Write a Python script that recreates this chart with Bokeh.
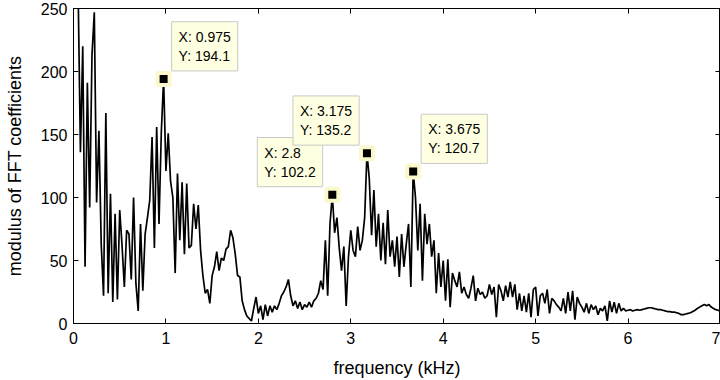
import numpy as np
from bokeh.plotting import figure
from bokeh.models import Range1d, LinearAxis, Label, ColumnDataSource, FixedTicker
from bokeh.embed import file_html
from bokeh.resources import INLINE

# ---- data ----
step_khz = 0.025
modulus = [
    320, 290, 265, 136, 220, 45, 191, 92, 213, 247,
    96, 153, 63, 22, 167, 24, 103, 17, 87, 19,
    90, 62, 29, 74, 71, 35, 100, 32, 10, 79,
    26, 71, 84, 98, 148, 60, 156, 79, 152, 194.1,
    121, 151, 113, 100, 40, 119, 66, 112, 55, 111,
    60, 62, 95, 75, 94, 58, 38, 24, 27, 16,
    38, 45, 57, 42, 52, 50, 59, 61, 74, 68,
    55, 38, 37, 18, 11, 6, 4, 2, 12, 21,
    8, 14, 3, 15, 6, 14, 9, 14, 11, 16,
    22, 25, 29, 35, 22, 14, 18, 12, 17, 11,
    15, 13, 17, 13, 18, 20, 24, 34, 27, 66,
    22, 79, 102.2, 72, 84, 60, 42, 61, 14, 53,
    74, 58, 53, 77, 58, 66, 84, 135.2, 115, 70,
    106, 61, 87, 50, 80, 47, 90, 53, 66, 45,
    69, 37, 71, 45, 63, 79, 29, 120.7, 100, 58,
    95, 34, 87, 63, 79, 53, 66, 24, 56, 29,
    50, 18, 51, 13, 40, 34, 29, 41, 24, 29,
    23, 20, 28, 38, 18, 28, 23, 25, 20, 22,
    31, 23, 29, 5, 31, 26, 18, 30, 21, 33,
    21, 31, 11, 24, 10, 22, 9, 24, 5, 27,
    29, 6, 22, 24, 16, 27, 8, 20, 18, 15,
    13, 10, 20, 8, 25, 10, 26, 3, 21, 16,
    13, 9, 16, 8, 15, 11, 14, 7, 12, 10,
    14, 2, 18, 9, 17, 8, 16, 10, 12, 10,
    10.5, 11, 10, 10.5, 11, 10.5, 11, 11.5, 12, 12.5,
    12.5, 12, 11.5, 11, 11, 10.5, 10, 9.5, 9.5, 9,
    9, 8.5, 8, 7, 7, 7.5, 8, 8.5, 9.5, 10.5,
    12, 13, 14, 15, 14, 15, 13, 12, 11, 10.5, 9.5,
]
freq = [round(i * step_khz, 4) for i in range(len(modulus))]

tip_x = [0.975, 2.8, 3.175, 3.675]
tip_y = [194.1, 102.2, 135.2, 120.7]
tip_dx = [8, -75, -74, 8]   # datatip box offset from its point (screen px)

x_ticks = [0, 1, 2, 3, 4, 5, 6, 7]
y_ticks = [0, 50, 100, 150, 200, 250]

FONT = "Liberation Sans"

p = figure(width=720, height=380, output_backend="svg", toolbar_location=None,
           x_range=Range1d(0, 7), y_range=Range1d(0, 250),
           min_border_left=73, min_border_right=0, min_border_top=8, min_border_bottom=57)
p.background_fill_color = "white"
p.border_fill_color = "white"
p.outline_line_color = "black"
p.outline_line_width = 1
p.xgrid.visible = False
p.ygrid.visible = False

src = ColumnDataSource(dict(f=freq, m=modulus))
p.line("f", "m", source=src, line_color="black", line_width=1.7)

p.scatter(tip_x, tip_y, marker="square", size=12, fill_color="black",
          line_color="#fbf8cc", line_width=4)

for ax in (p.xaxis[0], p.yaxis[0]):
    ax.major_tick_in = 5
    ax.major_tick_out = 0
    ax.minor_tick_line_color = None
    ax.major_label_text_font = FONT
    ax.major_label_text_font_size = "16px"
    ax.major_label_text_color = "black"
    ax.axis_label_text_font = FONT
    ax.axis_label_text_font_size = "18px"
    ax.axis_label_text_font_style = "normal"
    ax.axis_label_text_color = "black"
    ax.axis_line_color = "black"

p.xaxis.ticker = FixedTicker(ticks=x_ticks)
p.yaxis.ticker = FixedTicker(ticks=y_ticks)
p.xaxis.axis_label = "frequency (kHz)"
p.yaxis.axis_label = "modulus of FFT coefficients"
p.xaxis.major_label_standoff = 8
p.xaxis.axis_label_standoff = 11
p.yaxis.major_label_standoff = 6
p.yaxis.axis_label_standoff = 13

# mirror ticks on the right and top (no labels)
for loc, ticks in (("right", y_ticks), ("above", x_ticks)):
    a = LinearAxis(ticker=FixedTicker(ticks=ticks))
    a.major_tick_in = 5
    a.major_tick_out = 0
    a.minor_tick_line_color = None
    a.major_label_overrides = {t: "" for t in ticks}
    a.major_label_standoff = 0
    a.axis_line_color = "black"
    p.add_layout(a, loc)

for x, y, dx in zip(tip_x, tip_y, tip_dx):
    txt = f"X: {x:g}\nY: {y:g}"
    lab = Label(x=x, y=y, text=txt,
                x_offset=dx, y_offset=8,
                text_align="left", text_baseline="bottom",
                text_font=FONT, text_font_size="14px", text_color="black",
                background_fill_color="#ffffe1", background_fill_alpha=1.0,
                border_line_color="#c8c8c8", border_line_width=1,
                padding=7)
    p.add_layout(lab)

open("out.html", "w").write(file_html(p, INLINE))
